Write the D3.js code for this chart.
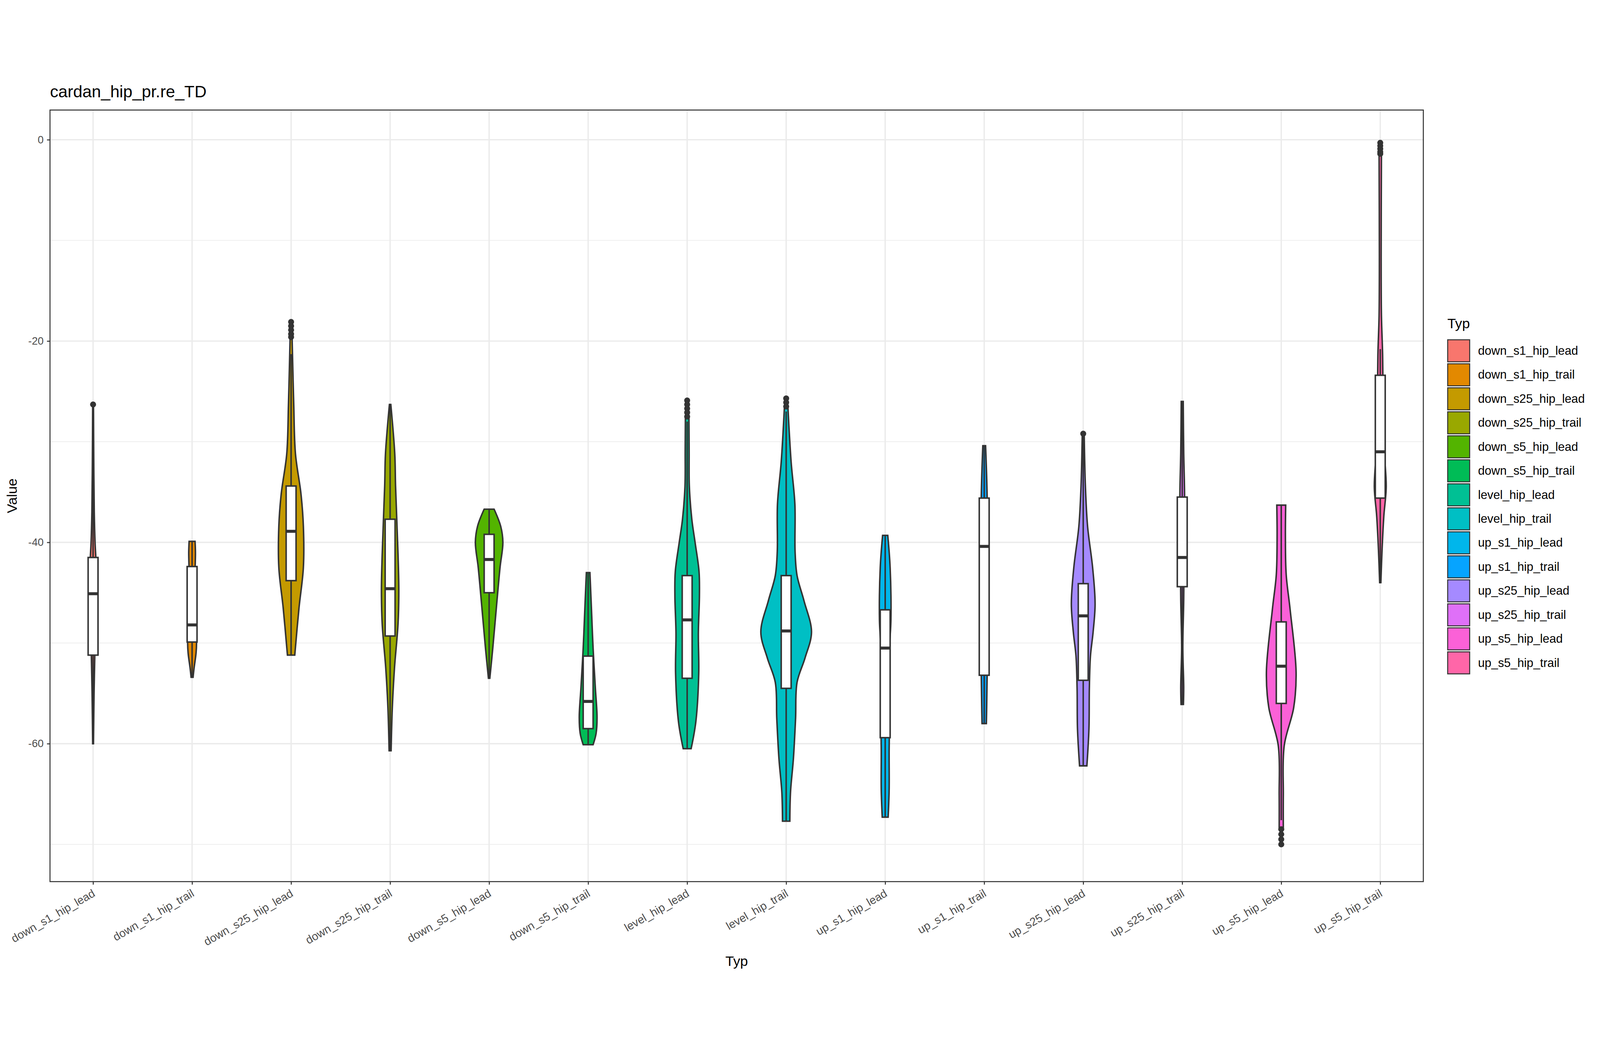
<!DOCTYPE html>
<html><head><meta charset="utf-8">
<script src="https://cdn.jsdelivr.net/npm/d3@7"></script>
<style>html,body{margin:0;padding:0;background:#fff;overflow:hidden;width:100%;height:100%}svg{display:block;width:100vw;height:100vh}text{font-family:"Liberation Sans",Arial,sans-serif}</style>
</head><body><svg id="c" viewBox="0 0 4800 2700" preserveAspectRatio="xMidYMid meet"></svg>
<script>
const categories=["down_s1_hip_lead","down_s1_hip_trail","down_s25_hip_lead","down_s25_hip_trail","down_s5_hip_lead","down_s5_hip_trail","level_hip_lead","level_hip_trail","up_s1_hip_lead","up_s1_hip_trail","up_s25_hip_lead","up_s25_hip_trail","up_s5_hip_lead","up_s5_hip_trail"];
const colors=["#F8766D","#E38900","#C49A00","#99A800","#53B400","#00BC56","#00C094","#00BFC4","#00B6EB","#06A4FF","#A58AFF","#DF70F8","#FB61D7","#FF66A8"];
// violin profiles: [value, half-width as fraction of category step]
const profiles=[
 [[-26.3,0.004],[-32,0.007],[-37,0.012],[-40,0.02],[-42,0.03],[-45,0.03],[-51,0.018],[-55,0.01],[-60,0.004]],
 [[-39.9,0.03],[-41,0.034],[-43,0.03],[-46,0.03],[-50,0.045],[-51,0.04],[-52.5,0.02],[-53.4,0.01]],
 [[-19.6,0.01],[-23,0.018],[-26.4,0.027],[-31.2,0.044],[-35.2,0.1],[-38.4,0.124],[-42.5,0.124],[-46.5,0.08],[-51.2,0.037]],
 [[-26.3,0.007],[-31.2,0.047],[-34.4,0.055],[-41.2,0.08],[-44.8,0.088],[-48.1,0.08],[-52.5,0.044],[-56.5,0.022],[-60.7,0.01]],
 [[-36.7,0.05],[-38.4,0.117],[-40,0.139],[-42.5,0.11],[-46.5,0.073],[-50.5,0.037],[-53.5,0.007]],
 [[-43,0.018],[-46.5,0.033],[-50.5,0.05],[-54.5,0.073],[-57.4,0.09],[-59,0.08],[-60.1,0.05]],
 [[-27.6,0.018],[-31,0.02],[-34.4,0.022],[-37.7,0.047],[-40,0.08],[-42.9,0.12],[-45.3,0.124],[-49,0.113],[-53,0.117],[-57.8,0.088],[-60.5,0.04]],
 [[-26.6,0.018],[-32,0.05],[-36.2,0.088],[-40.9,0.09],[-43.3,0.11],[-45.8,0.18],[-48.9,0.256],[-51.5,0.19],[-53.9,0.11],[-57.5,0.095],[-61.5,0.073],[-64.8,0.044],[-67.7,0.037]],
 [[-39.3,0.026],[-42.5,0.05],[-47.7,0.058],[-50.5,0.044],[-54.5,0.047],[-60.6,0.04],[-64.6,0.04],[-67.3,0.03]],
 [[-30.4,0.014],[-35.6,0.03],[-45,0.032],[-53.1,0.03],[-56.4,0.025],[-58,0.022]],
 [[-29.4,0.01],[-34.4,0.022],[-38.4,0.044],[-42.5,0.095],[-46.1,0.12],[-48.9,0.1],[-51.3,0.073],[-54.5,0.062],[-58.5,0.058],[-62.2,0.037]],
 [[-26,0.01],[-31.1,0.015],[-35.5,0.024],[-40,0.02],[-45.7,0.015],[-50.5,0.006],[-54.4,0.015],[-56.1,0.012]],
 [[-36.3,0.045],[-39.4,0.042],[-43.2,0.05],[-46.7,0.09],[-52.9,0.15],[-56.4,0.126],[-60.2,0.03],[-65.1,0.021],[-68.5,0.021]],
 [[-1.4,0.012],[-11.7,0.009],[-17.5,0.012],[-21.4,0.024],[-26.3,0.03],[-31.1,0.042],[-34.5,0.06],[-37.4,0.036],[-40.8,0.018],[-44,0.006]]
];
const q1=[-51.2,-49.9,-43.8,-49.3,-45.0,-58.5,-53.5,-54.5,-59.4,-53.2,-53.7,-44.4,-56.0,-35.6];
const medians=[-45.1,-48.2,-38.9,-44.6,-41.7,-55.8,-47.7,-48.8,-50.5,-40.4,-47.3,-41.5,-52.3,-31.0];
const q3=[-41.5,-42.4,-34.4,-37.7,-39.2,-51.3,-43.3,-43.3,-46.7,-35.6,-44.1,-35.5,-47.9,-23.4];
const whiskLo=[-60.0,-53.4,-51.2,-60.7,-53.5,-60.1,-60.5,-67.7,-67.3,-58.0,-62.2,-56.1,-67.6,-44.0];
const whiskHi=[-27.0,-39.9,-21.3,-26.3,-36.7,-43.0,-28.0,-27.0,-39.3,-30.4,-29.4,-26.0,-36.3,-20.8];
const outliers=[[-26.3],[],[-18.1,-18.5,-18.9,-19.3,-19.6],[],[],[],[-25.9,-26.3,-26.7,-27.1,-27.5],[-25.7,-26.1,-26.5],[],[],[-29.2],[],[-68.5,-69.0,-69.5,-70.0],[-0.3,-0.6,-0.9,-1.2,-1.4]];
const yTicks=[0,-20,-40,-60];
const yMinor=[-10,-30,-50,-70];

const svg=d3.select("#c");
const L=150,R=4270,T=98,B=2412;
const x=d3.scalePoint().domain(categories).range([L,R]).padding(0.435);
const y=d3.scaleLinear().domain([-73.7,2.95]).range([B,T]);
const step=x.step();
svg.append("rect").attr("x",0).attr("y",0).attr("width",4800).attr("height",2700).attr("fill","#fff");
const g=svg.append("g");
yMinor.forEach(v=>g.append("line").attr("x1",L).attr("x2",R).attr("y1",y(v)).attr("y2",y(v)).attr("stroke","#EBEBEB").attr("stroke-width",2));
yTicks.forEach(v=>g.append("line").attr("x1",L).attr("x2",R).attr("y1",y(v)).attr("y2",y(v)).attr("stroke","#EBEBEB").attr("stroke-width",4));
categories.forEach(c=>g.append("line").attr("x1",x(c)).attr("x2",x(c)).attr("y1",T).attr("y2",B).attr("stroke","#EBEBEB").attr("stroke-width",4));

categories.forEach((c,i)=>{
  const cx=x(c);
  const area=d3.area().y(d=>y(d[0])).x0(d=>cx-d[1]*step).x1(d=>cx+d[1]*step).curve(d3.curveCatmullRom);
  g.append("path").attr("d",area(profiles[i])).attr("fill",colors[i]).attr("stroke","#333").attr("stroke-width",4.5);
  const bw=0.1*step/2;
  g.append("line").attr("x1",cx).attr("x2",cx).attr("y1",y(whiskHi[i])).attr("y2",y(q3[i])).attr("stroke","#333").attr("stroke-width",4.5);
  g.append("line").attr("x1",cx).attr("x2",cx).attr("y1",y(q1[i])).attr("y2",y(whiskLo[i])).attr("stroke","#333").attr("stroke-width",4.5);
  g.append("rect").attr("x",cx-bw).attr("width",2*bw).attr("y",y(q3[i])).attr("height",y(q1[i])-y(q3[i])).attr("fill","#fff").attr("stroke","#333").attr("stroke-width",4.5);
  g.append("line").attr("x1",cx-bw).attr("x2",cx+bw).attr("y1",y(medians[i])).attr("y2",y(medians[i])).attr("stroke","#333").attr("stroke-width",9);
  outliers[i].forEach(v=>g.append("circle").attr("cx",cx).attr("cy",y(v)).attr("r",9).attr("fill","#333"));
});
svg.append("rect").attr("x",L).attr("y",T).attr("width",R-L).attr("height",B-T).attr("fill","none").attr("stroke","#333").attr("stroke-width",3);

const ya=svg.append("g").attr("transform",`translate(${L},0)`).call(d3.axisLeft(y).tickValues(yTicks).tickSize(9).tickPadding(10).tickFormat(d=>String(d)));
ya.select(".domain").remove();
ya.selectAll("line").attr("stroke","#333").attr("stroke-width",3);
ya.selectAll("text").attr("font-size",32).attr("fill","#4D4D4D").attr("font-family","Liberation Sans, Arial");
const xa=svg.append("g").attr("transform",`translate(0,${B})`).call(d3.axisBottom(x).tickSize(9));
xa.select(".domain").remove();
xa.selectAll("line").attr("stroke","#333").attr("stroke-width",3);
xa.selectAll("text").attr("font-size",34).attr("fill","#4D4D4D").attr("font-family","Liberation Sans, Arial")
  .attr("text-anchor","end").attr("dy",0).attr("y",0).attr("transform","translate(8,42) rotate(-30)");

svg.append("text").attr("x",(L+R)/2).attr("y",2665).attr("text-anchor","middle").attr("font-size",42).text("Typ");
svg.append("text").attr("transform",`translate(50,${(T+B)/2}) rotate(-90)`).attr("text-anchor","middle").attr("font-size",42).text("Value");
svg.append("text").attr("x",150).attr("y",60).attr("font-size",50).text("cardan_hip_pr.re_TD");

const lg=svg.append("g");
lg.append("text").attr("x",4342).attr("y",752).attr("font-size",42).text("Typ");
categories.forEach((c,i)=>{
  const yy=787+i*72;
  lg.append("rect").attr("x",4343).attr("y",yy).attr("width",66).attr("height",66).attr("fill",colors[i]).attr("stroke","#333").attr("stroke-width",3);
  lg.append("text").attr("x",4434).attr("y",yy+45).attr("font-size",36).text(c);
});
</script></body></html>
